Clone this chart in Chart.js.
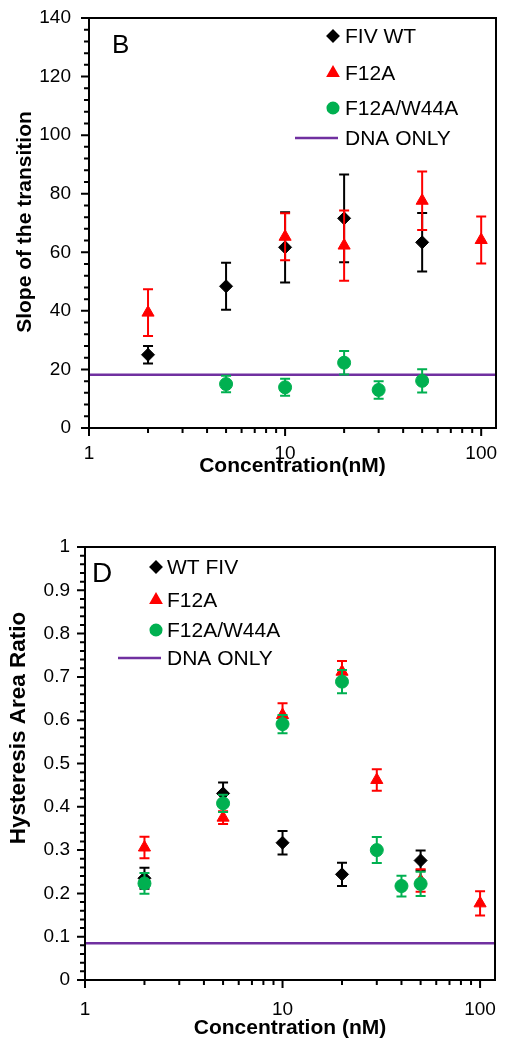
<!DOCTYPE html>
<html>
<head>
<meta charset="utf-8">
<script src="https://cdn.jsdelivr.net/npm/chart.js@4/dist/chart.umd.min.js"></script>
<style>
  body { margin: 0; background: #fff; }
  canvas { position: absolute; left: 0; }
</style>
</head>
<body>
<canvas id="slopeChart" width="507" height="490" style="top:0"></canvas>
<canvas id="hystChart" width="507" height="548" style="top:500px"></canvas>
<script>
// Panel B - slope of the transition
const slopeWtConc = [2, 5, 10, 20, 50];
const slopeWt = [25, 48.4, 61.7, 71.6, 63.4];
const slopeWtErr = [3, 8, 12, 15, 10];
const slopeF12aConc = [2, 10, 20, 50, 100];
const slopeF12a = [39.4, 65.3, 62.3, 77.6, 64.2];
const slopeF12aErr = [8, 8, 12, 10, 8];
const slopeDblConc = [5, 10, 20, 30, 50];
const slopeDbl = [15, 13.9, 22.3, 13, 16.1];
const slopeDblErr = [2.8, 2.9, 4, 3, 4];
const slopeDnaOnly = [18.2, 18.2];

// Panel D - hysteresis area ratio
const hystWtConc = [2, 5, 10, 20, 50];
const hystWt = [0.235, 0.431, 0.317, 0.244, 0.276];
const hystWtErr = [0.024, 0.025, 0.027, 0.027, 0.023];
const hystF12aConc = [2, 5, 10, 20, 30, 50, 100];
const hystF12a = [0.306, 0.375, 0.612, 0.712, 0.462, 0.23, 0.177];
const hystF12aErr = [0.025, 0.015, 0.027, 0.025, 0.025, 0.026, 0.028];
const hystDblConc = [2, 5, 10, 20, 30, 40, 50];
const hystDbl = [0.223, 0.408, 0.591, 0.689, 0.300, 0.217, 0.222];
const hystDblErr = [0.024, 0.02, 0.021, 0.027, 0.03, 0.024, 0.028];
const hystDnaOnly = [0.085, 0.085];

// shared x axis (log, 1 to ~120 nM)
const xMin = 1, xMax = 119;
const dnaOnlyConc = [xMin, xMax];
const xTickValues = [1, 2, 3, 4, 5, 6, 7, 8, 9, 10, 20, 30, 40, 50, 60, 70, 80, 90, 100];
const xTickLabels = ['1', '10', '100'];

const colors = { wt: '#000000', f12a: '#FF0000', dbl: '#00B050', dna: '#7030A0' };
const fontFamily = '"Liberation Sans", Arial, sans-serif';

function points(xs, ys) {
    return xs.map((x, i) => ({ x: x, y: ys[i] }));
}

// vertical error bars, drawn just before each dataset's markers
const errorBarPlugin = {
    id: 'errorBars',
    beforeDatasetDraw(chart, args) {
        const ds = chart.data.datasets[args.index];
        if (!ds.errorBars) return;
        const ctx = chart.ctx, yScale = chart.scales.y;
        ctx.save();
        ctx.strokeStyle = ds.borderColor;
        ctx.lineWidth = 2;
        args.meta.data.forEach((pt, i) => {
            const v = ds.data[i].y, e = ds.errorBars[i];
            const yTop = yScale.getPixelForValue(v + e);
            const yBot = yScale.getPixelForValue(v - e);
            ctx.beginPath();
            ctx.moveTo(pt.x, yTop); ctx.lineTo(pt.x, yBot);
            ctx.moveTo(pt.x - 5, yTop); ctx.lineTo(pt.x + 5, yTop);
            ctx.moveTo(pt.x - 5, yBot); ctx.lineTo(pt.x + 5, yBot);
            ctx.stroke();
        });
        ctx.restore();
    }
};

// box around the plot, outside tick marks (long for labelled ticks),
// y title, panel letter and legend
const framePlugin = {
    id: 'frame',
    afterDraw(chart, args, opts) {
        const { ctx, chartArea: a, scales: { x, y } } = chart;
        ctx.save();
        ctx.strokeStyle = '#000';
        ctx.lineWidth = 2;
        ctx.strokeRect(a.left, a.top, a.right - a.left, a.bottom - a.top);
        ctx.beginPath();
        x.ticks.forEach(t => {
            const px = x.getPixelForValue(t.value);
            const len = t.label ? 8 : 5;
            ctx.moveTo(px, a.bottom); ctx.lineTo(px, a.bottom + len);
        });
        y.ticks.forEach(t => {
            const py = y.getPixelForValue(t.value);
            const len = t.label ? 8 : 5;
            ctx.moveTo(a.left - len, py); ctx.lineTo(a.left, py);
        });
        ctx.stroke();

        // y axis title (sits a little off-centre in the original)
        ctx.fillStyle = '#000';
        ctx.save();
        ctx.translate(opts.yTitleX, opts.yTitleY);
        ctx.rotate(-Math.PI / 2);
        ctx.font = 'bold ' + opts.yTitleSize + 'px ' + fontFamily;
        ctx.textAlign = 'center';
        ctx.textBaseline = 'middle';
        ctx.fillText(opts.yTitle, 0, 0);
        ctx.restore();

        // panel letter
        ctx.font = opts.letterSize + 'px ' + fontFamily;
        ctx.textBaseline = 'alphabetic';
        ctx.fillText(opts.letter, opts.letterX, opts.letterY);

        // legend
        ctx.font = '21px ' + fontFamily;
        ctx.textBaseline = 'middle';
        opts.order.forEach((dsIndex, row) => {
            const ds = chart.data.datasets[dsIndex];
            const yy = opts.rows[row];
            if (ds.pointRadius === 0) {
                ctx.strokeStyle = ds.borderColor;
                ctx.lineWidth = ds.borderWidth;
                ctx.beginPath();
                ctx.moveTo(opts.lineX[0], yy); ctx.lineTo(opts.lineX[1], yy);
                ctx.stroke();
            } else {
                ctx.fillStyle = ds.backgroundColor;
                ctx.strokeStyle = ds.borderColor;
                Chart.helpers.drawPoint(ctx, {
                    pointStyle: ds.pointStyle, radius: ds.pointRadius * 0.85,
                    borderWidth: 1, rotation: 0
                }, opts.markerX, yy);
            }
            ctx.fillStyle = '#000';
            ctx.fillText(ds.label, opts.textX, yy + 1);
        });
        ctx.restore();
    }
};

function markerSet(label, data, errors, color, style, radius, order) {
    return {
        label: label, data: data, errorBars: errors,
        backgroundColor: color, borderColor: color, borderWidth: 1,
        pointStyle: style, pointRadius: radius, showLine: false, order: order
    };
}

function makePanel(canvasId, p) {
    return new Chart(document.getElementById(canvasId), {
        type: 'scatter',
        data: {
            datasets: [
                markerSet(p.names[0], p.wt, p.wtErr, colors.wt, 'rectRot', 6.5, 3),
                markerSet(p.names[1], p.f12a, p.f12aErr, colors.f12a, 'triangle', 7, 2),
                markerSet(p.names[2], p.dbl, p.dblErr, colors.dbl, 'circle', 6.5, 1),
                {
                    type: 'line', label: 'DNA ONLY', data: p.dna,
                    borderColor: colors.dna, borderWidth: 2.5, pointRadius: 0, order: 4
                }
            ]
        },
        options: {
            responsive: false,
            animation: false,
            layout: { padding: { left: 0, top: p.top, right: p.right, bottom: 0 } },
            plugins: {
                legend: { display: false },
                tooltip: { enabled: false },
                frame: p.frame
            },
            scales: {
                x: {
                    type: 'logarithmic', min: xMin, max: xMax,
                    afterBuildTicks: s => { s.ticks = xTickValues.map(v => ({ value: v })); },
                    afterFit: s => { s.height = p.xHeight; s.paddingLeft = 0; s.paddingRight = 0; },
                    grid: { display: false, drawTicks: false },
                    border: { display: false },
                    ticks: {
                        autoSkip: false, maxRotation: 0, minRotation: 0, padding: p.xTickPad,
                        color: '#000', font: { family: fontFamily, size: 19 },
                        callback: v => xTickLabels.includes(String(v)) ? String(v) : ''
                    },
                    title: {
                        display: true, text: p.xTitle, color: '#000',
                        font: { family: fontFamily, size: 21, weight: 'bold' },
                        padding: { top: 0, bottom: p.xTitlePad }
                    }
                },
                y: {
                    min: 0, max: p.yMax,
                    afterFit: s => { s.width = p.yWidth; s.paddingTop = 0; s.paddingBottom = 0; },
                    grid: { display: false, drawTicks: false },
                    border: { display: false },
                    ticks: {
                        stepSize: p.yMinor, autoSkip: false, padding: p.yTickPad,
                        color: '#000', font: { family: fontFamily, size: 19 },
                        callback: p.yLabel
                    }
                }
            }
        },
        plugins: [errorBarPlugin, framePlugin]
    });
}

makePanel('slopeChart', {
    names: ['FIV WT', 'F12A', 'F12A/W44A'],
    wt: points(slopeWtConc, slopeWt), wtErr: slopeWtErr,
    f12a: points(slopeF12aConc, slopeF12a), f12aErr: slopeF12aErr,
    dbl: points(slopeDblConc, slopeDbl), dblErr: slopeDblErr,
    dna: points(dnaOnlyConc, slopeDnaOnly),
    top: 18, right: 11, xHeight: 62, yWidth: 89,
    xTickPad: 14, yTickPad: 18, xTitlePad: 11,
    yMax: 140, yMinor: 4,
    yLabel: v => (v % 20 === 0 ? String(v) : ''),
    xTitle: 'Concentration(nM)',
    frame: {
        yTitle: 'Slope of the transition', yTitleX: 25, yTitleY: 222, yTitleSize: 21,
        letter: 'B', letterSize: 26, letterX: 112, letterY: 53,
        order: [0, 1, 2, 3], rows: [36, 73, 108, 138],
        markerX: 333, textX: 345, lineX: [295, 338]
    }
});

makePanel('hystChart', {
    names: ['WT FIV', 'F12A', 'F12A/W44A'],
    wt: points(hystWtConc, hystWt), wtErr: hystWtErr,
    f12a: points(hystF12aConc, hystF12a), f12aErr: hystF12aErr,
    dbl: points(hystDblConc, hystDbl), dblErr: hystDblErr,
    dna: points(dnaOnlyConc, hystDnaOnly),
    top: 47, right: 12, xHeight: 68, yWidth: 85,
    xTickPad: 18, yTickPad: 15, xTitlePad: 7,
    yMax: 1, yMinor: 0.02,
    yLabel: v => (Math.abs(v * 10 - Math.round(v * 10)) < 1e-6 ? String(Math.round(v * 10) / 10) : ''),
    xTitle: 'Concentration (nM)',
    frame: {
        yTitle: 'Hysteresis Area Ratio', yTitleX: 19, yTitleY: 228, yTitleSize: 22.5,
        letter: 'D', letterSize: 28, letterX: 92, letterY: 82,
        order: [0, 1, 2, 3], rows: [67, 100, 130, 158],
        markerX: 156, textX: 167, lineX: [118, 161]
    }
});
</script>
</body>
</html>
